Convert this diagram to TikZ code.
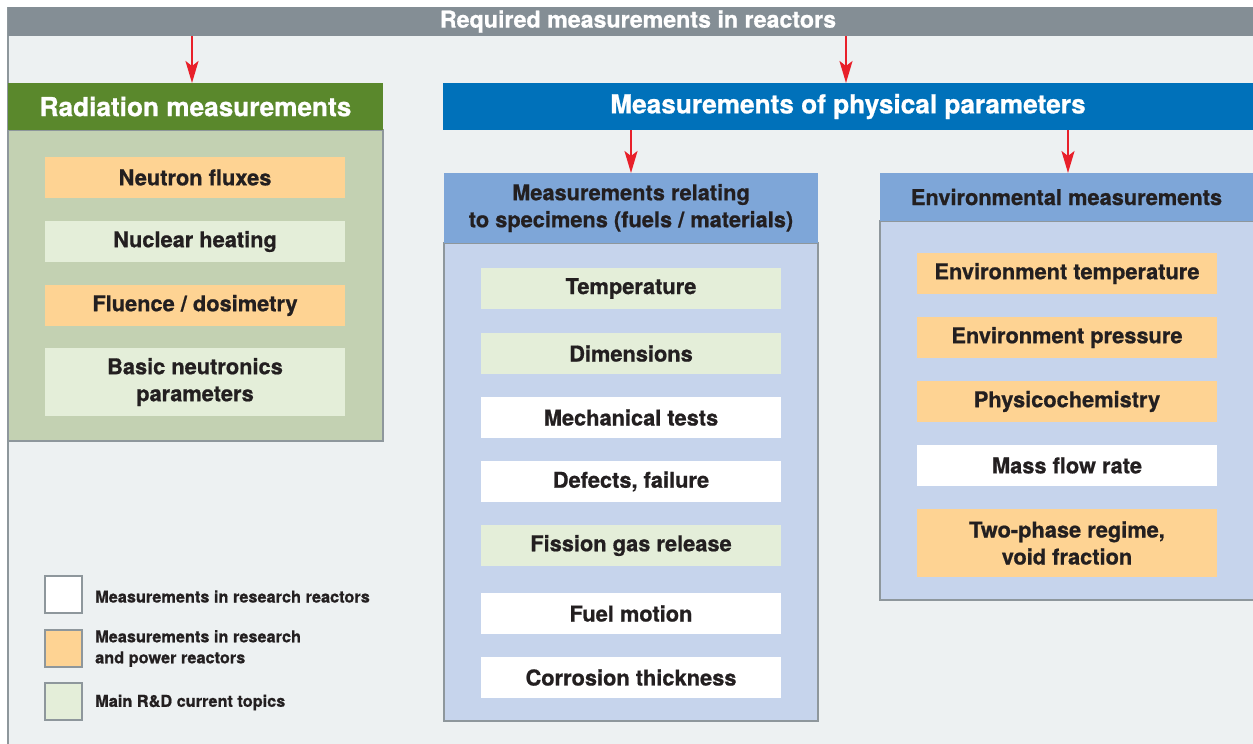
\documentclass[tikz,border=0pt]{standalone}
\usepackage{fontspec}
\setmainfont{TeX Gyre Heros}[BoldFeatures={FakeBold=0.8}]
\usetikzlibrary{arrows.meta,positioning}
\definecolor{bgcol}{HTML}{EDF1F2}
\definecolor{barcol}{HTML}{848E95}
\definecolor{radhcol}{HTML}{5A882C}
\definecolor{radbcol}{HTML}{C3D1B2}
\definecolor{physcol}{HTML}{0071BA}
\definecolor{subhcol}{HTML}{7EA6D8}
\definecolor{subbcol}{HTML}{C6D4EC}
\definecolor{orangecol}{HTML}{FED393}
\definecolor{rdcol}{HTML}{E4EED9}
\definecolor{edgecol}{HTML}{8E979C}
\definecolor{txtcol}{HTML}{231F20}
\definecolor{redcol}{HTML}{E8202A}
\begin{document}
\begin{tikzpicture}[x=1pt,y=-1pt,
	panel/.style={anchor=north west,inner sep=0pt,outer sep=0pt},
	head/.style={panel,minimum height=47,text=white,font=\fontsize{26.2}{31}\selectfont\bfseries},
	subhead/.style={panel,text=txtcol,align=center,font=\fontsize{21.8}{27}\selectfont\bfseries},
	body/.style={panel,draw=edgecol,line width=1.2pt},
	item/.style={panel,minimum width=300,minimum height=41,text=txtcol,align=center,font=\fontsize{21.8}{27}\selectfont\bfseries},
	both/.style={item,fill=orangecol},
	rd/.style={item,fill=rdcol},
	research/.style={item,fill=white},
	legbox/.style={panel,minimum width=37,minimum height=37,draw=edgecol,line width=1.2pt},
	legtext/.style={text=txtcol,align=left,inner sep=0pt,font=\fontsize{16.3}{21}\selectfont\bfseries},
	link/.style={draw=redcol,line width=2pt,-{Stealth[length=22pt,width=13pt,inset=5pt]}}]
	\useasboundingbox (0,0) rectangle (1253,744);
	\fill[bgcol] (8,7) rectangle (1253,744);
	\draw[edgecol,line width=1.2pt] (8,7)--(8,744);
	\node[panel,fill=barcol,minimum width=1245,minimum height=29] (bar) at (8,7) {};
	\node[text=white,font=\fontsize{23.2}{28}\selectfont\bfseries] (title) at (638,21.5) {Required measurements in reactors};
	\node[body,fill=radbcol,minimum width=375,minimum height=311] (radbody) at (8,130) {};
	\node[head,fill=radhcol,minimum width=375] (radhead) at (8,83) {Radiation measurements};
	\node[both] (flux) at (45,157) {Neutron fluxes};
	\node[rd] (heat) at (45,221) {Nuclear heating};
	\node[both] (fluence) at (45,285) {Fluence / dosimetry};
	\node[rd,minimum height=68] (neutronics) at (45,348) {Basic neutronics\\parameters};
	\node[head,fill=physcol,minimum width=810] (physhead) at (443,83) {Measurements of physical parameters};
	\node[body,fill=subbcol,minimum width=374,minimum height=478] (specbody) at (444,243) {};
	\node[subhead,fill=subhcol,minimum width=374,minimum height=70] (spechead) at (444,173) {Measurements relating\\to specimens (fuels / materials)};
	\node[rd] (temp) at (481,268) {Temperature};
	\node[rd] (dim) at (481,333) {Dimensions};
	\node[research] (mech) at (481,397) {Mechanical tests};
	\node[research] (defects) at (481,461) {Defects, failure};
	\node[rd] (fgr) at (481,525) {Fission gas release};
	\node[research] (motion) at (481,593) {Fuel motion};
	\node[research] (corrosion) at (481,657) {Corrosion thickness};
	\node[body,fill=subbcol,minimum width=380,minimum height=379] (envbody) at (880,221) {};
	\node[subhead,fill=subhcol,minimum width=373,minimum height=48] (envhead) at (880,173) {Environmental measurements};
	\node[both] (envtemp) at (917,253) {Environment temperature};
	\node[both] (envpress) at (917,317) {Environment pressure};
	\node[both] (chem) at (917,381) {Physicochemistry};
	\node[research] (flow) at (917,445) {Mass flow rate};
	\node[both,minimum height=68] (twophase) at (917,509) {Two-phase regime,\\void fraction};
	\node[legbox,fill=white] (legwhite) at (45,576) {};
	\node[legbox,fill=orangecol] (legorange) at (45,630) {};
	\node[legbox,fill=rdcol] (leggreen) at (45,683) {};
	\node[legtext,right=13pt of legwhite,yshift=-2pt] (legwhitetext) {Measurements in research reactors};
	\node[legtext,right=13pt of legorange] (legorangetext) {Measurements in research\\and power reactors};
	\node[legtext,right=13pt of leggreen,yshift=-1pt] (leggreentext) {Main R\&D current topics};
	\draw[link] (bar.south -| 192,0)--(radhead.north -| 192,0);
	\draw[link] (bar.south -| 846,0)--(physhead.north -| 846,0);
	\draw[link] (physhead.south -| spechead)--(spechead.north);
	\draw[link] (physhead.south -| 1068,0)--(envhead.north -| 1068,0);
\end{tikzpicture}
\end{document}
